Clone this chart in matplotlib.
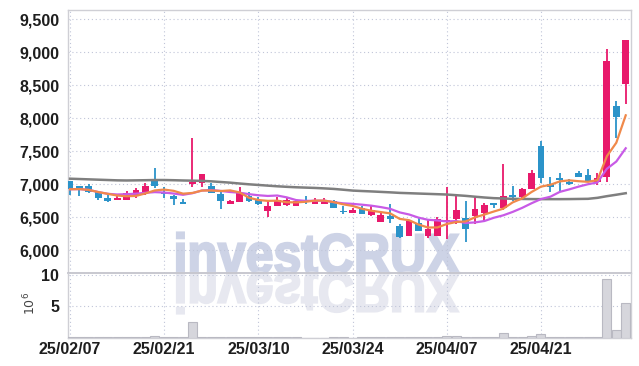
import numpy as np
import pandas as pd
import matplotlib
matplotlib.use('Agg')
import matplotlib.pyplot as plt
from matplotlib.textpath import TextPath
from matplotlib.patches import PathPatch
from matplotlib.font_manager import FontProperties
from matplotlib.transforms import Affine2D, IdentityTransform

# x axis labels (trading-day index)
tick_idx = [0, 10, 20, 30, 40, 50]
tick_labels = ['25/02/07', '25/02/21', '25/03/10', '25/03/24', '25/04/07', '25/04/21']

# daily OHLC
opens = [7050, 6975, 6975, 6890, 6790, 6755, 6755, 6840, 6865, 7065,
         6890, 6825, 6725, 7000, 7025, 6975, 6850, 6700, 6725, 6825,
         6755, 6590, 6665, 6690, 6665, 6755, 6700, 6700, 6740, 6600,
         6565, 6640, 6540, 6425, 6515, 6375, 6215, 6417, 6211, 6217,
         6428, 6477, 6493, 6527, 6568, 6718, 6643, 6843, 6800, 6924,
         7580, 7000, 7100, 7040, 7176, 7140, 7040, 7115, 8187, 8525]
highs = [7055, 6980, 7000, 6895, 6855, 6835, 6905, 6940, 7015, 7240,
         6965, 6845, 6775, 7695, 7160, 7025, 6900, 6765, 6965, 6890,
         6815, 6750, 6815, 6785, 6765, 6825, 6795, 6790, 6765, 6665,
         6640, 6665, 6665, 6575, 6700, 6395, 6455, 6497, 6452, 6510,
         6955, 6830, 6753, 6805, 6720, 6718, 7306, 6980, 6940, 7220,
         7656, 7115, 7167, 7085, 7200, 7230, 7170, 9045, 8267, 9186]
lows = [6840, 6825, 6865, 6755, 6730, 6755, 6755, 6790, 6840, 6940,
        6790, 6690, 6700, 6955, 6955, 6865, 6625, 6700, 6725, 6725,
        6690, 6505, 6665, 6665, 6665, 6700, 6700, 6700, 6640, 6555,
        6565, 6550, 6515, 6425, 6415, 6185, 6215, 6286, 6190, 6217,
        6176, 6400, 6127, 6400, 6450, 6640, 6603, 6753, 6800, 6924,
        7015, 6890, 6903, 6990, 7110, 7050, 6990, 7040, 7697, 8212]
closes = [6925, 6930, 6890, 6785, 6750, 6795, 6875, 6915, 6975, 6975,
          6860, 6780, 6700, 7030, 7155, 6865, 6740, 6750, 6875, 6750,
          6695, 6675, 6765, 6755, 6740, 6740, 6765, 6765, 6640, 6575,
          6615, 6550, 6615, 6540, 6475, 6200, 6450, 6286, 6316, 6477,
          6462, 6603, 6327, 6628, 6688, 6693, 6819, 6804, 6925, 7176,
          7100, 6960, 7060, 7005, 7110, 7055, 7090, 8873, 8025, 9186]
# volume, 10^6 shares
volume = [0.05, 0.04, 0.04, 0.06, 0.05, 0.04, 0.05, 0.05, 0.06, 0.20,
          0.06, 0.05, 0.05, 2.55, 0.15, 0.15, 0.08, 0.05, 0.06, 0.05,
          0.05, 0.07, 0.05, 0.04, 0.04, 0.03, 0.03, 0.03, 0.04, 0.04,
          0.03, 0.04, 0.04, 0.05, 0.06, 0.08, 0.07, 0.05, 0.06, 0.08,
          0.20, 0.20, 0.08, 0.06, 0.07, 0.05, 0.70, 0.08, 0.07, 0.20,
          0.55, 0.08, 0.07, 0.05, 0.06, 0.05, 0.07, 9.40, 1.20, 5.60]
# long moving average (needs history before the window)
ma_long = [7085, 7080, 7075, 7070, 7065, 7060, 7058, 7060, 7062, 7065,
           7065, 7062, 7058, 7055, 7052, 7045, 7035, 7025, 7012, 7000,
           6990, 6980, 6970, 6962, 6955, 6950, 6945, 6938, 6930, 6918,
           6905, 6898, 6892, 6885, 6878, 6870, 6865, 6860, 6855, 6850,
           6845, 6835, 6825, 6812, 6800, 6790, 6785, 6780, 6778, 6776,
           6775, 6775, 6775, 6776, 6778, 6780, 6795, 6820, 6842, 6865]

UP = '#e8196b'
DOWN = '#2b93c9'

x = np.arange(len(closes))
o = np.array(opens); c = np.array(closes)
h = np.array(highs); l = np.array(lows)
close_s = pd.Series(closes)
ma5 = close_s.rolling(5, min_periods=1).mean()
ma10 = close_s.rolling(10, min_periods=1).mean()

plt.rcParams['font.family'] = ['Liberation Sans Narrow', 'Liberation Sans', 'DejaVu Sans']

W, H = 639, 366
fig = plt.figure(figsize=(W / 100, H / 100), dpi=100)
left, right = 67.5 / W, 631 / W
ax = fig.add_axes([left, 1 - 272.7 / H, right - left, (272.7 - 9.5) / H])
axv = fig.add_axes([left, 1 - 337.7 / H, right - left, (337.7 - 272.7) / H], sharex=ax)
for a in (ax, axv):
    a.set_facecolor('none')

# watermark with reflection
fp = FontProperties(family='Liberation Sans', weight='bold')
tp = TextPath((0, 0), 'investCRUX', size=100, prop=fp)
ext = tp.get_extents()
cap = TextPath((0, 0), 'C', size=100, prop=fp).get_extents()
sx = (459 - 177) / ext.width
sy = 39 / cap.y1
base = H - 273
tr_main = Affine2D().translate(-ext.x0, 0).scale(sx, sy).translate(177, base)
tr_refl = Affine2D().translate(-ext.x0, 0).scale(sx, -sy).translate(177, base)
wm = PathPatch(tr_main.transform_path(tp), facecolor='#cdd3e6', edgecolor='#cdd3e6',
               linewidth=1.6, transform=IdentityTransform(), zorder=-2)
wr = PathPatch(tr_refl.transform_path(tp), facecolor='#e7e8f0', edgecolor='#e7e8f0',
               linewidth=1.6, transform=IdentityTransform(), zorder=-2)
fig.add_artist(wm)
fig.add_artist(wr)

# candles
colors = np.where(c >= o, UP, DOWN)
ax.vlines(x, l, h, colors=colors, linewidth=1.3, zorder=3)
body_bottom = np.minimum(o, c)
body_h = np.maximum(np.abs(c - o), 12)
ax.bar(x, body_h, 0.72, bottom=body_bottom, color=colors, zorder=4)

# moving averages
ax.plot(x, ma_long, color='#7f7f7f', linewidth=1.8, zorder=5)
ax.plot(x, ma10, color='#c85ae6', linewidth=1.6, zorder=5)
ax.plot(x, ma5, color='#f0894a', linewidth=1.6, zorder=6)

ax.set_ylim(5660, 9650)
ax.set_yticks(np.arange(6000, 9501, 500))
ax.set_yticklabels([f'{v:,}' for v in range(6000, 9501, 500)])
ax.set_xlim(-0.27, 59.56)

# volume
axv.bar(x, volume, 0.96, color='#d6d6dc', edgecolor='#b9b9c2', linewidth=0.8, zorder=3)
axv.set_ylim(0, 10.37)
axv.set_yticks([5, 10])
axv.set_yticklabels(['5', '10'])
axv.set_xticks(tick_idx)
axv.set_xticklabels(tick_labels)
fig.text(30 / W, 1 - 303 / H, '10$^{6}$', rotation=90, ha='center', va='center',
         fontsize=9, color='#444444', family='DejaVu Sans')

for a in (ax, axv):
    a.grid(True, linestyle=(0, (1, 2.5)), color='#c0c5d8', linewidth=0.8, zorder=0)
    a.tick_params(length=0, labelsize=11.5, colors='#1e1e1e')
    for lab in a.get_xticklabels() + a.get_yticklabels():
        lab.set_fontweight('bold')
    for s in a.spines.values():
        s.set_color('#cfcfd5')
        s.set_linewidth(1.0)
ax.tick_params(axis='y', pad=6)
axv.tick_params(axis='y', pad=6)
axv.tick_params(axis='x', pad=3)
ax.tick_params(axis='x', labelbottom=False)
ax.spines['bottom'].set_color('#c4c4cc')
ax.spines['bottom'].set_linewidth(1.3)
axv.spines['top'].set_visible(False)

fig.savefig('out.png', dpi=100)
